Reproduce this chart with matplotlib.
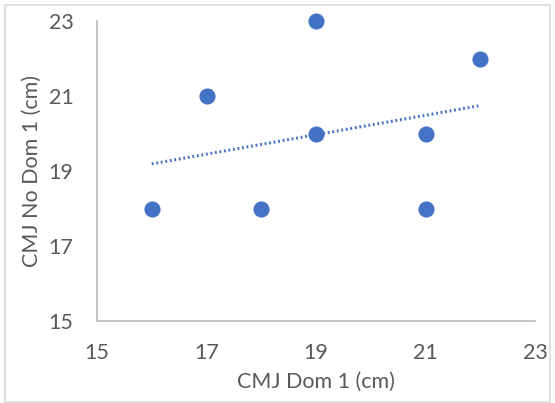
import matplotlib
matplotlib.use('Agg')
import matplotlib.pyplot as plt
import numpy as np
from matplotlib.patches import Rectangle

cmj_dom = [16, 17, 18, 19, 19, 21, 21, 22]
cmj_no_dom = [18, 21, 18, 23, 20, 20, 18, 22]
xticks = [15, 17, 19, 21, 23]
yticks = [15, 17, 19, 21, 23]

plt.rcParams['font.family'] = ['Lato', 'DejaVu Sans']
grey = '#595959'
blue = '#4472C4'

fig = plt.figure(figsize=(5.55, 4.03), dpi=100)
ax = fig.add_axes([97 / 555, 1 - 321 / 403, (535 - 97) / 555, (321 - 21) / 403])

ax.scatter(cmj_dom, cmj_no_dom, s=135, color=blue, zorder=3, linewidths=0, clip_on=False)

# linear trendline like excel
k, b = np.polyfit(cmj_dom, cmj_no_dom, 1)
xt = np.array([min(cmj_dom), max(cmj_dom)])
ax.plot(xt, k * xt + b, color=blue, lw=2.2, linestyle=(0, (0.6, 0.9)), zorder=2)

ax.set_xlim(15, 23)
ax.set_ylim(15, 23)
ax.set_xticks(xticks)
ax.set_yticks(yticks)
for s in ['top', 'right']:
    ax.spines[s].set_visible(False)
for s in ['left', 'bottom']:
    ax.spines[s].set_color('#BFBFBF')
    ax.spines[s].set_linewidth(1.3)
ax.tick_params(axis='x', length=0, labelsize=15.5, colors=grey, pad=16)
ax.tick_params(axis='y', length=0, labelsize=15.5, colors=grey, pad=17)
ax.set_xlabel('CMJ Dom 1 (cm)', fontsize=15.5, color=grey, labelpad=6)
ax.set_ylabel('CMJ No Dom 1 (cm)', fontsize=15.5, color=grey, labelpad=5)

fig.patches.append(Rectangle((5 / 555, 1 / 403), 545 / 555, 397 / 403,
                             transform=fig.transFigure, fill=False,
                             edgecolor='#D9D9D9', lw=1.2))

fig.savefig('out.png', dpi=100)
